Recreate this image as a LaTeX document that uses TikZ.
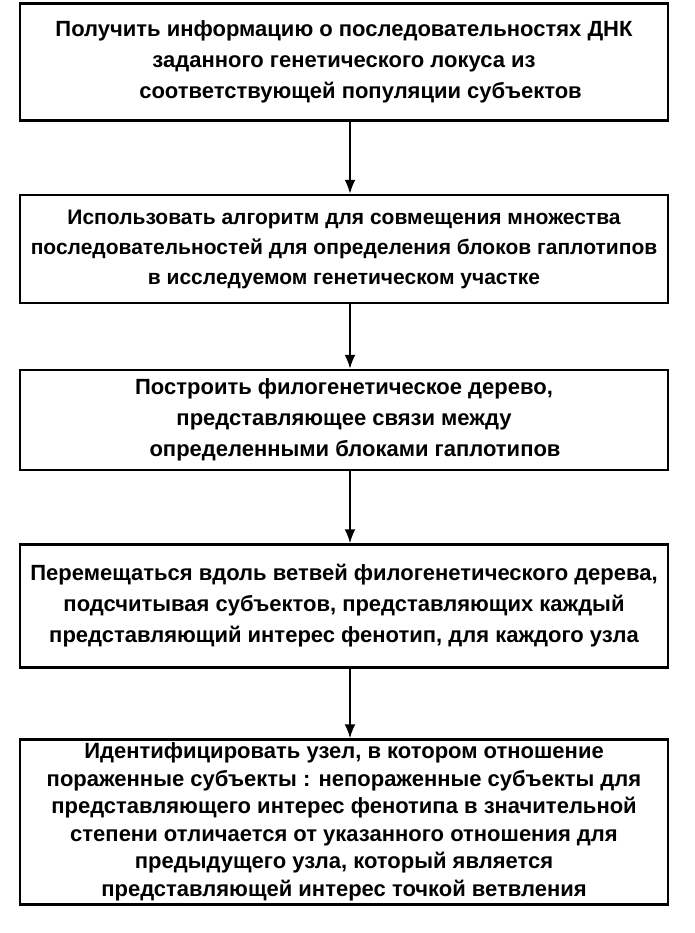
\documentclass[tikz,border=0pt]{standalone}
\usepackage{fontspec}
\setmainfont{Liberation Sans}
\usetikzlibrary{positioning,arrows.meta}
\begin{document}
\begin{tikzpicture}[x=1pt,y=-1pt]
  % Styles
  \tikzset{stepbox/.style={draw,line width=2.4pt,minimum width=648pt,align=center,
      font=\bfseries\fontsize{22}{31}\selectfont,inner sep=0pt},
    flow/.style={line width=2pt,-{Latex[length=14pt,width=11pt]}}}
  \useasboundingbox (0,0) rectangle (695,933);
  %boxes
  \node[stepbox,minimum height=117pt] (info) at (344,62)
    {Получить информацию о последовательностях ДНК\\заданного генетического локуса из\\\hspace*{1.5em}соответствующей популяции субъектов};
  \node[stepbox,minimum height=108pt,font=\bfseries\fontsize{21}{30}\selectfont] (align) at (344,249)
    {Использовать алгоритм для совмещения множества\\последовательностей для определения блоков гаплотипов\\в исследуемом генетическом участке};
  \node[stepbox,minimum height=100pt] (tree) at (344,420)
    {Построить филогенетическое дерево,\\представляющее связи между\\\hspace*{1em}определенными блоками гаплотипов};
  \node[stepbox,minimum height=123pt] (count) at (344,606)
    {Перемещаться вдоль ветвей филогенетического дерева,\\подсчитывая субъектов, представляющих каждый\\представляющий интерес фенотип, для каждого узла};
  \node[stepbox,minimum height=165pt,font=\bfseries\fontsize{22}{27.5}\selectfont] (node) at (344,822)
    {Идентифицировать узел, в котором отношение\\пораженные субъекты : непораженные субъекты для\\представляющего интерес фенотипа в значительной\\степени отличается от указанного отношения для\\предыдущего узла, который является\\представляющей интерес точкой ветвления};
  %arrows
  \foreach \a/\b in {info/align,align/tree,tree/count,count/node}
    \draw[flow] (\a.south) ++(6pt,0) -- ([xshift=6pt]\b.north);
\end{tikzpicture}
\end{document}
